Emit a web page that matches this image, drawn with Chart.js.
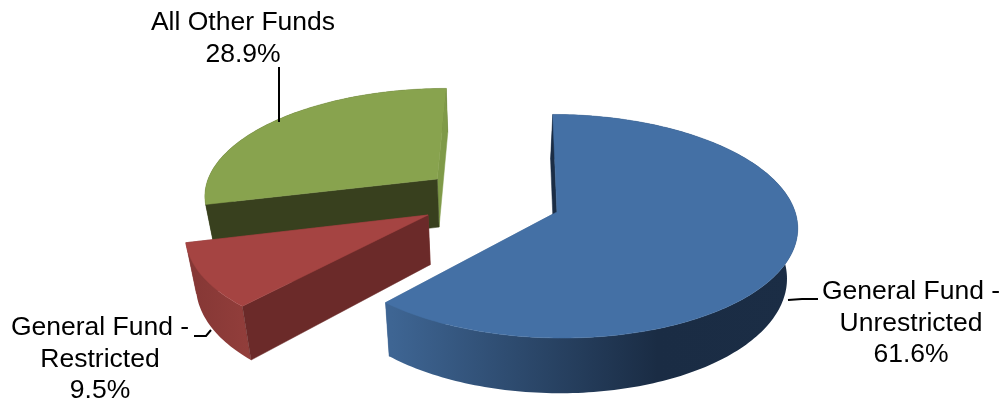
<!DOCTYPE html>
<html>
<head>
<meta charset="utf-8">
<style>html,body{margin:0;padding:0;background:#fff}canvas{display:block}</style>
<script src="https://cdn.jsdelivr.net/npm/chart.js@4"></script>
</head>
<body>
<canvas id="c" width="1003" height="401"></canvas>
<script>
const categories = ['General Fund - Unrestricted', 'General Fund - Restricted', 'All Other Funds'];
const shares = [61.6, 9.5, 28.9];
const explode = [65, 40, 36];
const explodeTilt = [1, -14.6, 10];
const topColors = ['#4470A5', '#A54442', '#88A34E'];

const labelLines = [['General Fund -', 'Unrestricted', '61.6%'], ['General Fund -', 'Restricted', '9.5%'], ['All Other Funds', '28.9%']];
const labelAnchors = [[911, 292], [100, 328], [243, 23]];
const leaders = [[[788, 300], [802, 299], [818, 299]], [[211, 330], [206, 336], [194, 336]], [[279, 67], [279, 122]]];

const wallStyles = [
  {x0: 392, x1: 800, stops: [[0, '#3E6593'], [0.65, '#1A2C44'], [1, '#1B2D45']]},
  {x0: 188, x1: 250, stops: [[0, '#853735'], [1, '#923E3B']]},
  {x0: 205, x1: 440, stops: [[0, '#38401E'], [1, '#38401E']]}
];
const cutColors = [
  {start: '#1B2D45', end: '#3E6593'},
  {start: '#6B2A29', end: '#853735'},
  {start: '#38401E', end: '#7F9A48'}
];
const endFaceInFront = [false, false, true];

const VANISH_X = 520, PERSP = 0.125, SX = 1.43, SY = 0.648;
const DEPTH = 49, DEPTH_GROW = 0.045, BASE_SHRINK = 0.965, BASE_X = 490;

function project(arc, u, v) {
  const R = arc.outerRadius, w = 1 - PERSP * v;
  return [VANISH_X + (arc.x - VANISH_X + R * SX * u) / w, arc.y + R * SY * v / w];
}
function lower(p) {
  return [BASE_X + (p[0] - BASE_X) * BASE_SHRINK, p[1] + DEPTH + DEPTH_GROW * (p[1] - 200)];
}
function poly(ctx, pts, fill) {
  ctx.beginPath();
  pts.forEach((p, i) => i ? ctx.lineTo(p[0], p[1]) : ctx.moveTo(p[0], p[1]));
  ctx.closePath();
  ctx.fillStyle = fill;
  ctx.fill();
  ctx.strokeStyle = typeof fill === 'string' ? fill : 'rgba(0,0,0,0)';
  ctx.lineWidth = 0.5;
  ctx.stroke();
}
function drawSlice(ctx, arc, i) {
  const s = arc.startAngle, e = arc.endAngle, mid = (s + e) / 2 + explodeTilt[i] * Math.PI / 180;
  const d = arc.options.offset / arc.outerRadius;
  const bu = d * Math.cos(mid), bv = d * Math.sin(mid);
  const apex = project(arc, bu, bv);
  const rim = [];
  const n = Math.ceil((e - s) / 0.02);
  for (let k = 0; k <= n; k++) {
    const t = s + (e - s) * k / n;
    rim.push(project(arc, bu + Math.cos(t), bv + Math.sin(t)));
  }
  const first = rim[0], last = rim[rim.length - 1];
  const endFace = () => poly(ctx, [apex, last, lower(last), lower(apex)], cutColors[i].end);
  if (!endFaceInFront[i]) endFace();
  const wall = wallStyles[i];
  const g = ctx.createLinearGradient(wall.x0, 0, wall.x1, 0);
  wall.stops.forEach(st => g.addColorStop(st[0], st[1]));
  poly(ctx, rim.concat(rim.map(lower).reverse()), g);
  if (endFaceInFront[i]) endFace();
  poly(ctx, [apex, first, lower(first), lower(apex)], cutColors[i].start);
  poly(ctx, [apex].concat(rim), arc.options.backgroundColor);
}

const pie3d = {
  id: 'pie3d',
  beforeDatasetDraw(chart) {
    const arcs = chart.getDatasetMeta(0).data;
    const ctx = chart.ctx;
    [2, 1, 0].forEach(i => drawSlice(ctx, arcs[i], i));
    return false;
  },
  afterDraw(chart) {
    const ctx = chart.ctx;
    ctx.save();
    ctx.strokeStyle = '#000';
    ctx.lineWidth = 2;
    leaders.forEach(l => {
      ctx.beginPath();
      l.forEach((p, i) => i ? ctx.lineTo(p[0], p[1]) : ctx.moveTo(p[0], p[1]));
      ctx.stroke();
    });
    ctx.fillStyle = '#000';
    ctx.font = '26.5px "Liberation Sans", Arial, sans-serif';
    ctx.textAlign = 'center';
    ctx.textBaseline = 'middle';
    labelLines.forEach((lines, i) => {
      lines.forEach((t, j) => ctx.fillText(t, labelAnchors[i][0], labelAnchors[i][1] + j * 31.5));
    });
    ctx.restore();
  }
};

new Chart(document.getElementById('c'), {
  type: 'pie',
  data: {
    labels: categories,
    datasets: [{data: shares, backgroundColor: topColors, offset: explode, borderWidth: 0}]
  },
  options: {
    responsive: false,
    animation: false,
    events: [],
    layout: {padding: {right: 63, bottom: 9}},
    plugins: {legend: {display: false}, tooltip: {enabled: false}}
  },
  plugins: [pie3d]
});
</script>
</body>
</html>
